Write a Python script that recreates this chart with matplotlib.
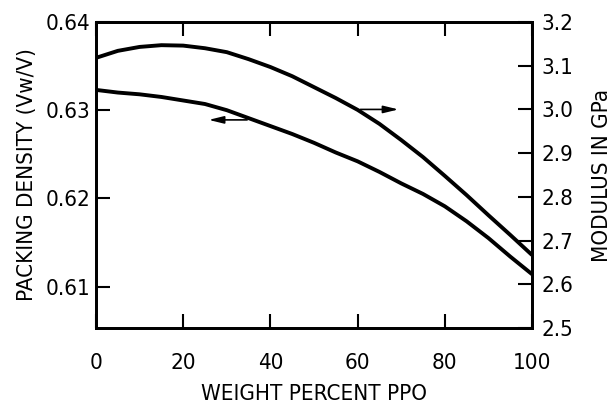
import matplotlib
matplotlib.use("Agg")
import matplotlib.pyplot as plt

plt.rcParams['font.family'] = ['DejaVu Sans']
plt.rcParams['font.stretch'] = 'condensed'

# weight percent PPO
ppo = [0, 5, 10, 15, 20, 25, 30, 35, 40, 45, 50, 55, 60, 65, 70, 75, 80, 85, 90, 95, 100]
# packing density (left axis)
density = [0.6323, 0.6320, 0.6318, 0.6315, 0.6311, 0.6307, 0.6300, 0.6291, 0.6282, 0.6273,
           0.6263, 0.6252, 0.6242, 0.6230, 0.6217, 0.6205, 0.6191, 0.6174, 0.6155, 0.6134, 0.6114]
# modulus in GPa (right axis)
modulus = [3.118, 3.134, 3.143, 3.147, 3.146, 3.140, 3.131, 3.115, 3.097, 3.076,
           3.051, 3.026, 2.999, 2.967, 2.930, 2.891, 2.848, 2.804, 2.758, 2.713, 2.667]

x_ticks = [0, 20, 40, 60, 80, 100]
left_ticks = [0.61, 0.62, 0.63, 0.64]
right_ticks = [2.5, 2.6, 2.7, 2.8, 2.9, 3.0, 3.1, 3.2]

fig = plt.figure(figsize=(6.13, 4.03), dpi=100)
ax = fig.add_axes([0.1566, 0.1861, 0.7113, 0.7593])
ax2 = ax.twinx()

ax.plot(ppo, density, color='black', linewidth=2.8, solid_capstyle='butt')
ax2.plot(ppo, modulus, color='black', linewidth=2.8, solid_capstyle='butt')

ax.set_xlim(0, 100)
ax.set_ylim(0.6053, 0.64)
ax2.set_ylim(2.5, 3.2)

ax.set_xticks(x_ticks)
ax.set_xticklabels([str(v) for v in x_ticks])
ax.set_yticks(left_ticks)
ax.set_yticklabels(['0.61', '0.62', '0.63', '0.64'])
ax2.set_yticks(right_ticks)
ax2.set_yticklabels([f'{v:.1f}' for v in right_ticks])

for a in (ax, ax2):
    for s in a.spines.values():
        s.set_linewidth(2.0)

ax.tick_params(axis='x', direction='in', length=10, width=1.5, top=True, labelsize=16, pad=18)
ax.tick_params(axis='y', direction='in', length=10, width=1.5, labelsize=16, pad=4)
ax2.tick_params(axis='y', direction='in', length=10, width=1.5, labelsize=16, pad=7)

ax.set_xlabel('WEIGHT PERCENT PPO', fontsize=16, labelpad=8)
ax.set_ylabel('PACKING DENSITY (Vw/V)', fontsize=16, labelpad=6)
ax2.set_ylabel('MODULUS IN GPa', fontsize=16, labelpad=13)

# arrows pointing to the axis each curve belongs to
ax.annotate('', xy=(25.2, 0.6289), xytext=(35.3, 0.6289),
            arrowprops=dict(arrowstyle='-|>,head_length=0.9,head_width=0.22', color='black', lw=1.2))
ax2.annotate('', xy=(70, 3.0), xytext=(60, 3.0),
             arrowprops=dict(arrowstyle='-|>,head_length=0.9,head_width=0.22', color='black', lw=1.2))

fig.savefig('out.png', dpi=100)
